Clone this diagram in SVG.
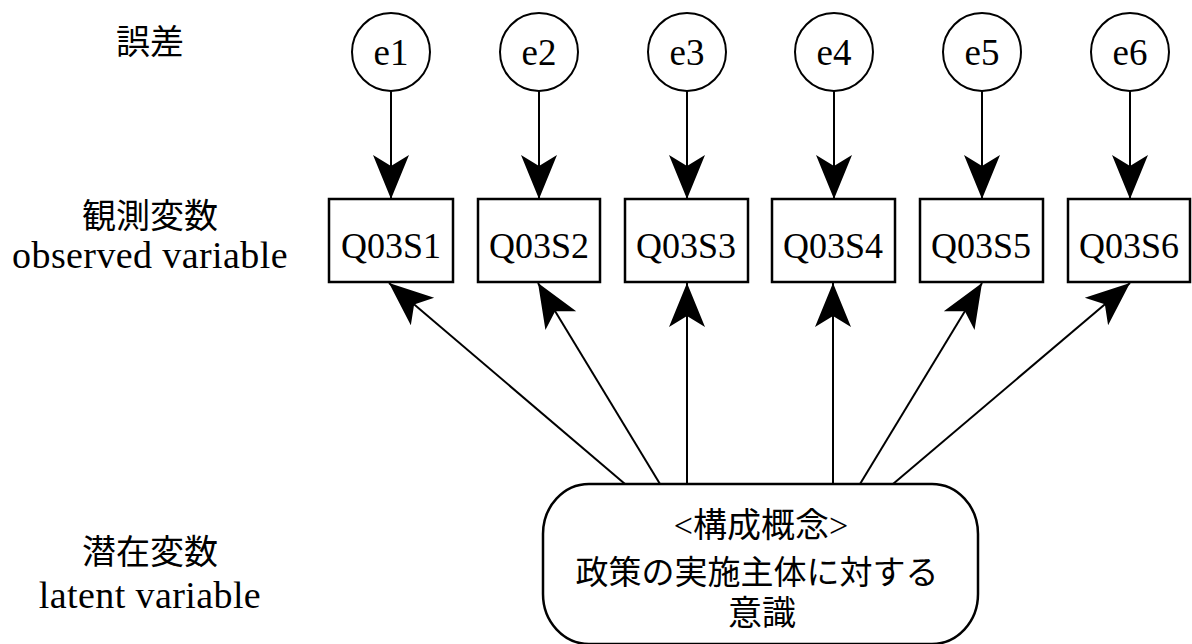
<svg xmlns="http://www.w3.org/2000/svg" width="1192" height="644" viewBox="0 0 1192 644">
<defs>
<style>
.t{font-family:"Liberation Serif","Noto Sans CJK JP",serif;font-size:34px;fill:#000;text-anchor:middle}
.lab{font-size:38px;letter-spacing:0.4px}
.ev{font-size:37px}
.q{font-size:36px}
.c{fill:#fff;stroke:#000;stroke-width:2}
.b{fill:#fff;stroke:#000;stroke-width:2.5}
.e{stroke:#000;stroke-width:2;fill:none;marker-end:url(#ah)}
</style>
<marker id="ah" markerUnits="userSpaceOnUse" viewBox="-46 -20 48 40" refX="0" refY="0" markerWidth="48" markerHeight="40" orient="auto">
<path d="M0,0 L-44,-18 L-33,0 L-44,18 Z" fill="#000"/>
</marker>
</defs>
<rect width="1192" height="644" fill="#fff"/>
<g id="labels">
<text class="t" x="150" y="54">誤差</text>
<text class="t" x="150" y="228">観測変数</text>
<text class="t lab" x="150" y="268">observed variable</text>
<text class="t" x="150" y="564">潜在変数</text>
<text class="t lab" x="150" y="608">latent variable</text>
</g>
<g id="connectors">
<line class="e" x1="391" y1="91" x2="391" y2="199"/>
<line class="e" x1="539" y1="91" x2="539" y2="199"/>
<line class="e" x1="687" y1="91" x2="687" y2="199"/>
<line class="e" x1="834" y1="91" x2="834" y2="199"/>
<line class="e" x1="982" y1="91" x2="982" y2="199"/>
<line class="e" x1="1130" y1="91" x2="1130" y2="199"/>
<line class="e" x1="625" y1="484" x2="389" y2="283"/>
<line class="e" x1="660" y1="484" x2="538" y2="283"/>
<line class="e" x1="687" y1="484" x2="687" y2="283"/>
<line class="e" x1="833" y1="484" x2="833" y2="283"/>
<line class="e" x1="860" y1="484" x2="982" y2="283"/>
<line class="e" x1="893" y1="484" x2="1130" y2="283"/>
</g>
<g id="e1"><circle class="c" cx="391" cy="52" r="39"/><text class="t ev" x="391" y="65">e1</text></g>
<g id="e2"><circle class="c" cx="539" cy="52" r="39"/><text class="t ev" x="539" y="65">e2</text></g>
<g id="e3"><circle class="c" cx="687" cy="52" r="39"/><text class="t ev" x="687" y="65">e3</text></g>
<g id="e4"><circle class="c" cx="834" cy="52" r="39"/><text class="t ev" x="834" y="65">e4</text></g>
<g id="e5"><circle class="c" cx="982" cy="52" r="39"/><text class="t ev" x="982" y="65">e5</text></g>
<g id="e6"><circle class="c" cx="1130" cy="52" r="39"/><text class="t ev" x="1130" y="65">e6</text></g>
<g id="q1"><rect class="b" x="329" y="199" width="124" height="83"/><text class="t q" x="391" y="258">Q03S1</text></g>
<g id="q2"><rect class="b" x="478" y="199" width="122" height="83"/><text class="t q" x="539" y="258">Q03S2</text></g>
<g id="q3"><rect class="b" x="625" y="199" width="123" height="83"/><text class="t q" x="686" y="258">Q03S3</text></g>
<g id="q4"><rect class="b" x="772" y="199" width="123" height="83"/><text class="t q" x="833" y="258">Q03S4</text></g>
<g id="q5"><rect class="b" x="920" y="199" width="123" height="83"/><text class="t q" x="981" y="258">Q03S5</text></g>
<g id="q6"><rect class="b" x="1068" y="199" width="122" height="83"/><text class="t q" x="1129" y="258">Q03S6</text></g>
<g id="latent">
<rect class="b" x="543" y="484" width="435" height="160" rx="46" ry="50"/>
<text class="t" x="761" y="537">&lt;構成概念&gt;</text>
<text class="t" x="757" y="584" style="font-size:33px">政策の実施主体に対する</text>
<text class="t" x="762" y="625">意識</text>
</g>
</svg>
